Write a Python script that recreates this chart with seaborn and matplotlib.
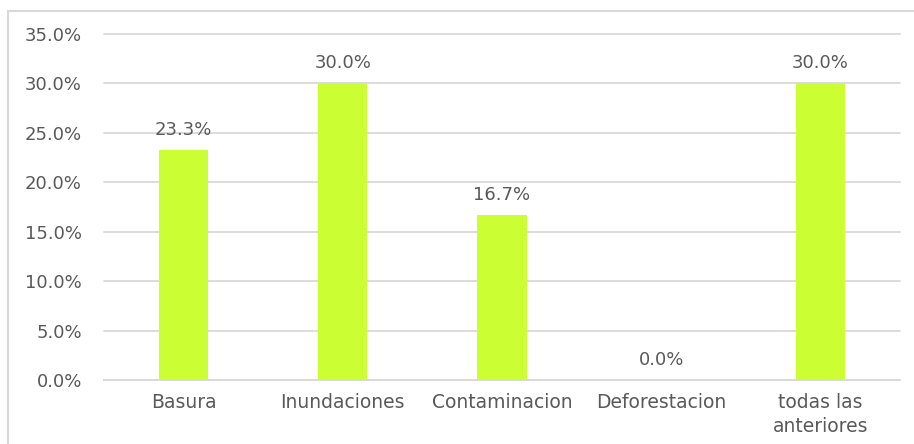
import matplotlib
matplotlib.use("Agg")
import matplotlib.pyplot as plt
import seaborn as sns
import pandas as pd
from matplotlib.patches import Rectangle

categories = ["Basura", "Inundaciones", "Contaminacion", "Deforestacion", "todas las\nanteriores"]
values = [0.233, 0.300, 0.167, 0.000, 0.300]
yticks = [0.0, 0.05, 0.10, 0.15, 0.20, 0.25, 0.30, 0.35]

sns.set_theme(style="white")
plt.rcParams["font.family"] = ["Liberation Sans Narrow", "DejaVu Sans"]

text_color = "#595959"
bar_color = "#CCFF33"
grid_color = "#D9D9D9"

df = pd.DataFrame({"cat": categories, "val": values})

fig = plt.figure(figsize=(9.14, 4.44), dpi=100)
fig.patches.append(Rectangle((0.0088, -0.05), 1.2, 1.025, transform=fig.transFigure,
                             fill=False, edgecolor=grid_color, linewidth=1.5))
ax = fig.add_axes([0.1138, 0.1441, 0.8709, 0.7793])

sns.barplot(data=df, x="cat", y="val", color=bar_color, width=0.31,
            saturation=1, linewidth=0, edgecolor="none", ax=ax, zorder=3)

ax.set_ylim(0, 0.35)
ax.set_yticks(yticks)
ax.set_yticklabels([f"{t*100:.1f}%" for t in yticks], fontsize=13, color=text_color)
ax.tick_params(axis="x", labelsize=13.5, colors=text_color, length=0, pad=9)
ax.tick_params(axis="y", length=0, pad=16)
for lbl in ax.get_xticklabels():
    lbl.set_linespacing(1.35)
ax.set_xlabel("")
ax.set_ylabel("")
ax.yaxis.grid(True, color=grid_color, linewidth=1.3, zorder=0)
for gl in ax.get_ygridlines():
    gl.set_clip_on(False)
ax.set_axisbelow(True)
for s in ["top", "right", "left"]:
    ax.spines[s].set_visible(False)
ax.spines["bottom"].set_color(grid_color)
ax.spines["bottom"].set_linewidth(1.3)

for i, v in enumerate(values):
    ax.annotate(f"{v*100:.1f}%", (i, v), xytext=(0, 8), textcoords="offset points",
                ha="center", va="bottom", fontsize=13, color=text_color)

fig.savefig("out.png", dpi=100)
